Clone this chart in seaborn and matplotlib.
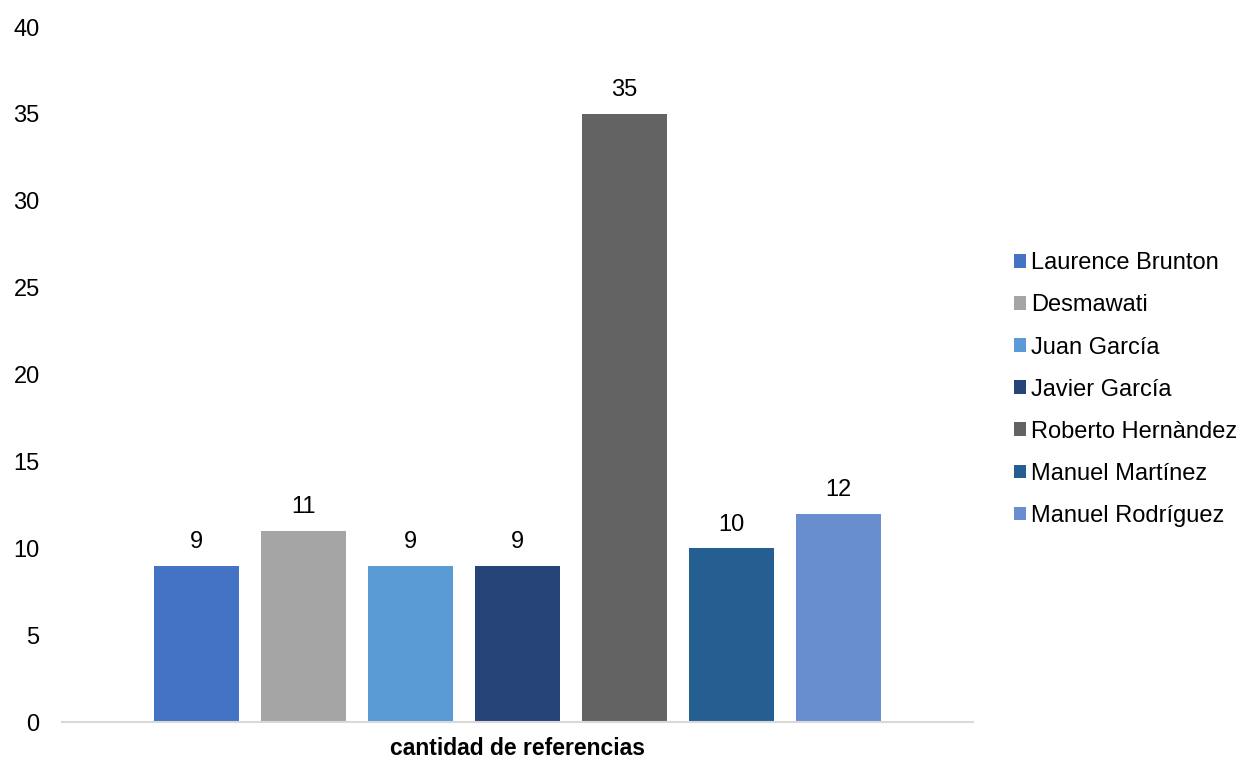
import matplotlib
matplotlib.use("Agg")
import matplotlib.pyplot as plt
import seaborn as sns
import pandas as pd

autores = ["Laurence Brunton", "Desmawati", "Juan García", "Javier García",
           "Roberto Hernàndez", "Manuel Martínez", "Manuel Rodríguez"]
referencias = [9, 11, 9, 9, 35, 10, 12]
categoria = "cantidad de referencias"
colores = ["#4472C4", "#A5A5A5", "#5B9BD5", "#264478", "#636363", "#255E91", "#698ED0"]

df = pd.DataFrame({"categoria": [categoria] * len(autores),
                   "autor": autores,
                   "referencias": referencias})

sns.set_style("white")
plt.rcParams['font.family'] = ['Liberation Sans', 'DejaVu Sans']
plt.rcParams['text.color'] = 'black'
plt.rcParams['xtick.color'] = 'black'
plt.rcParams['ytick.color'] = 'black'

fig = plt.figure(figsize=(12.44, 7.61), dpi=100)
ax = fig.add_axes([0.0498, 0.0512, 0.7322, 0.9133])

sns.barplot(data=df, x="categoria", y="referencias", hue="autor",
            palette=colores, gap=0.205, width=0.822, saturation=1,
            linewidth=0, ax=ax)

for c in ax.containers:
    ax.bar_label(c, fontsize=17, padding=9, color="black")

ax.set_ylim(0, 40)
ax.set_yticks(range(0, 41, 5))
ax.set_xlim(-0.5, 0.5)
ax.set_xlabel("")
ax.set_ylabel("")
ax.tick_params(axis="y", labelsize=17, length=0, pad=16, labelcolor="black")
ax.tick_params(axis="x", labelsize=16.5, length=0, pad=11, labelcolor="black")
for lbl in ax.get_xticklabels():
    lbl.set_fontweight("bold")

sns.despine(ax=ax, left=True, top=True, right=True)
ax.spines["bottom"].set_color("#D9D9D9")
ax.spines["bottom"].set_linewidth(1.5)

handles, labels = ax.get_legend_handles_labels()
ax.get_legend().remove()
leg = fig.legend(handles, labels, loc="center left", bbox_to_anchor=(0.815, 0.488),
                 frameon=False, fontsize=17, handlelength=0.52, handleheight=0.52,
                 handletextpad=0.22, labelspacing=0.85, borderpad=0, borderaxespad=0)
for t in leg.get_texts():
    t.set_color("black")

fig.savefig("out.png", dpi=100)
